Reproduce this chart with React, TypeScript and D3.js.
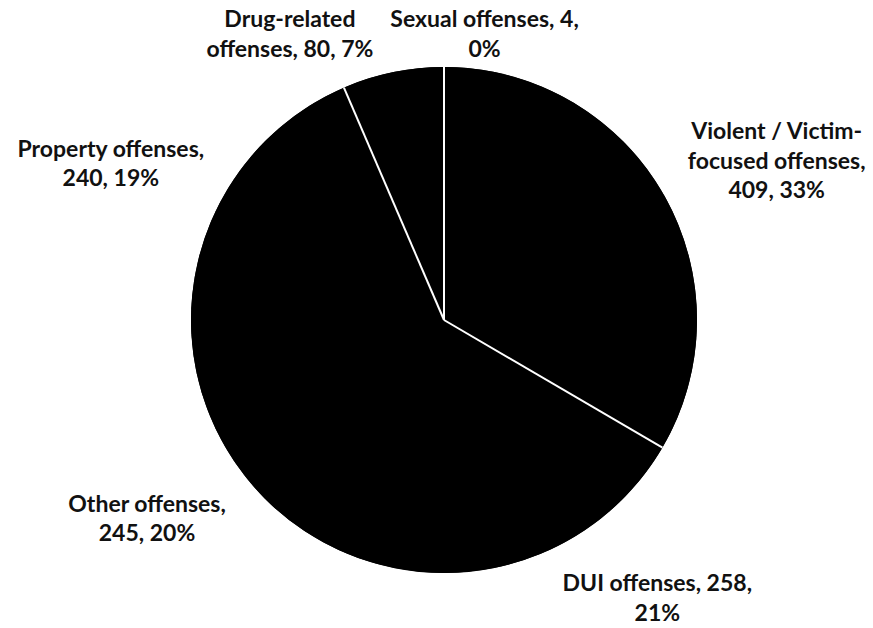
import React from "react";
import * as d3 from "d3";

const categories = [
  "Sexual offenses",
  "Violent / Victim-focused offenses",
  "DUI offenses",
  "Other offenses",
  "Property offenses",
  "Drug-related offenses",
];
const values = [4, 409, 258, 245, 240, 80];
const percents = [0, 33, 21, 20, 19, 7];
// slices followed by a visible white divider line
const dividerAfter = ["Violent / Victim-focused offenses", "Property offenses", "Drug-related offenses"];

// layout (label nudges relative to the slice's outer edge point, wrap widths)
const labelNudge: [number, number][] = [
  [38, -40],
  [112, -57],
  [118, 37],
  [-100, 33],
  [-118, -30],
  [-103, -45],
];
const wrapWidth = [210, 195, 210, 190, 210, 205];

const W = 873;
const H = 628;
const CX = 444;
const CY = 320;
const R = 253;
const FONT_SIZE = 23;
const FONT = `bold ${FONT_SIZE}px Lato`;
const LINE_H = 29.5;

let ctx: CanvasRenderingContext2D | null = null;
function measure(t: string): number {
  if (!ctx) ctx = document.createElement("canvas").getContext("2d");
  if (!ctx) return t.length * 11;
  ctx.font = FONT;
  return ctx.measureText(t).width;
}

function wrap(text: string, maxW: number): string[] {
  const tokens: string[] = [];
  text.split(" ").forEach((w, i, arr) => {
    const parts = w.split(/(?<=-)/);
    parts.forEach((p, j) => {
      const last = j === parts.length - 1;
      tokens.push(p + (last && i < arr.length - 1 ? " " : ""));
    });
  });
  const lines: string[] = [];
  let cur = "";
  tokens.forEach((tk) => {
    const cand = cur + tk;
    if (cur && measure(cand.trimEnd()) > maxW) {
      lines.push(cur.trimEnd());
      cur = tk;
    } else cur = cand;
  });
  if (cur) lines.push(cur.trimEnd());
  return lines;
}

export default function App() {
  const data = categories.map((c, i) => ({ name: c, value: values[i], pct: percents[i], i }));
  const pie = d3.pie<any>().sort(null).value((d) => d.value).startAngle(0).endAngle(2 * Math.PI);
  const arcs = pie(data);
  const arcGen = d3.arc<any>().innerRadius(0).outerRadius(R);

  return (
    <svg
      width={W}
      height={H}
      style={{ position: "absolute", left: 0, top: 0, background: "#fff" }}
      fontFamily="Lato, 'Open Sans', sans-serif"
    >
      <g transform={`translate(${CX},${CY})`}>
        <circle r={R} fill="#000" />
        {arcs.map((a, k) => (
          <path key={k} d={arcGen(a) as string} fill="#000" />
        ))}
        {arcs
          .filter((a) => dividerAfter.includes(a.data.name))
          .map((a, k) => {
            const ang = a.endAngle;
            return (
              <line
                key={k}
                x1={0}
                y1={0}
                x2={Math.sin(ang) * R}
                y2={-Math.cos(ang) * R}
                stroke="#fff"
                strokeWidth={2}
              />
            );
          })}
      </g>
      {arcs.map((a, k) => {
        const mid = (a.startAngle + a.endAngle) / 2;
        const ax = CX + Math.sin(mid) * R + labelNudge[k][0];
        const ay = CY - Math.cos(mid) * R + labelNudge[k][1];
        const lines = wrap(`${a.data.name}, ${a.data.value}, ${a.data.pct}%`, wrapWidth[k]);
        return (
          <text key={k} x={ax} y={ay} textAnchor="middle" fontSize={FONT_SIZE} fontWeight="bold" fill="#111">
            {lines.map((l, j) => (
              <tspan key={j} x={ax} y={ay + j * LINE_H}>
                {l}
              </tspan>
            ))}
          </text>
        );
      })}
    </svg>
  );
}
